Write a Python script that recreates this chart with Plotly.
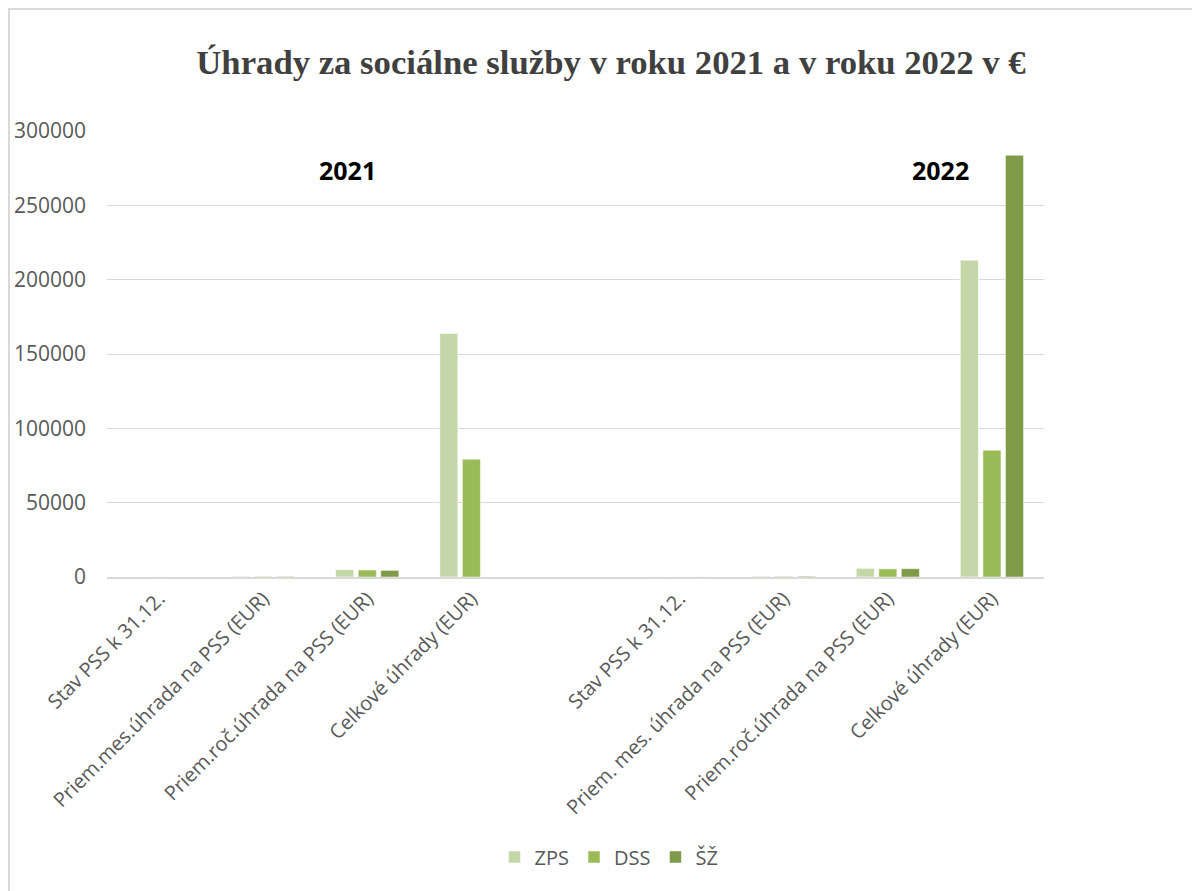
import plotly.graph_objects as go

categories = [
    "Stav PSS k 31.12.",
    "Priem.mes.úhrada na PSS (EUR)",
    "Priem.roč.úhrada na PSS (EUR)",
    "Celkové úhrady (EUR)",
    "",
    "Stav PSS k 31.12.",
    "Priem. mes. úhrada na PSS (EUR)",
    "Priem.roč.úhrada na PSS (EUR)",
    "Celkové úhrady (EUR)",
]
zps = [40, 410, 4900, 163800, None, 45, 480, 5800, 213000]
dss = [30, 390, 4700, 79200, None, 32, 450, 5500, 85300]
sz = [0, 370, 4450, 0, None, 38, 470, 5600, 283700]
series_names = ["ZPS", "DSS", "ŠŽ"]
colors = ["#c4d7a9", "#9bbb59", "#7f9a48"]
y_ticks = [0, 50000, 100000, 150000, 200000, 250000, 300000]
title = "Úhrady za sociálne služby v roku 2021 a v roku 2022 v €"
year_labels = ["2021", "2022"]

x = list(range(len(categories)))

fig = go.Figure()
for name, vals, col in zip(series_names, [zps, dss, sz], colors):
    fig.add_trace(go.Bar(x=x, y=vals, name=name,
                         marker=dict(color=col, line=dict(color="#ffffff", width=0.5))))

OFF = 8  # page body margin
W, H = 1200 - OFF, 891 - OFF
ml, mt = 107 - OFF, 131 - OFF
pw = 1044 - 107
ph = 577 - 131
mr = W - ml - pw
mb = H - mt - ph


def px_x(X):
    return (X - OFF - ml) / pw


def px_y(Y):
    return 1 - (Y - OFF - mt) / ph


fig.update_layout(
    width=W, height=H,
    margin=dict(l=ml, r=mr, t=mt, b=mb, autoexpand=False),
    paper_bgcolor="white", plot_bgcolor="white",
    barmode="group", bargap=0.35, bargroupgap=0.2,
    title=dict(text="<b>" + title + "</b>", x=px_x(611), xref="paper", xanchor="center",
               y=1 - (62 - OFF) / H, yanchor="middle",
               font=dict(family="Liberation Serif", size=34.7, color="#404040")),
    showlegend=True,
    legend=dict(orientation="h", x=px_x(609), xanchor="center",
                y=px_y(857), yanchor="middle",
                font=dict(family="Open Sans", size=20, color="#595959"),
                itemwidth=30, traceorder="normal"),
    xaxis=dict(range=[-0.5, len(categories) - 0.5], tickmode="array", tickvals=x,
               ticktext=categories, tickangle=-45, showgrid=False,
               showline=True, linecolor="#d9d9d9", linewidth=2, ticks="",
               tickfont=dict(family="Open Sans", size=20, color="#595959")),
    yaxis=dict(range=[0, 300000], tickmode="array", tickvals=y_ticks,
               ticktext=[str(v) for v in y_ticks], showgrid=True,
               gridcolor="#d9d9d9", gridwidth=1, zeroline=False, showline=False,
               ticks="", ticklabelstandoff=20,
               tickfont=dict(family="Open Sans", size=21, color="#595959")),
)

# year annotations
for label, xpos in zip(year_labels, [347, 940]):
    fig.add_annotation(text="<b>" + label + "</b>", x=px_x(xpos), xref="paper",
                       y=px_y(170), yref="paper", showarrow=False,
                       xanchor="center", yanchor="middle",
                       font=dict(family="Open Sans", size=25, color="#000000"))

# chart area border
fig.add_shape(type="rect", xref="paper", yref="paper",
              x0=px_x(9), x1=px_x(1260),
              y0=px_y(950), y1=px_y(9),
              line=dict(color="#d9d9d9", width=2), fillcolor="rgba(0,0,0,0)", layer="below")

fig.write_html("out.html")
